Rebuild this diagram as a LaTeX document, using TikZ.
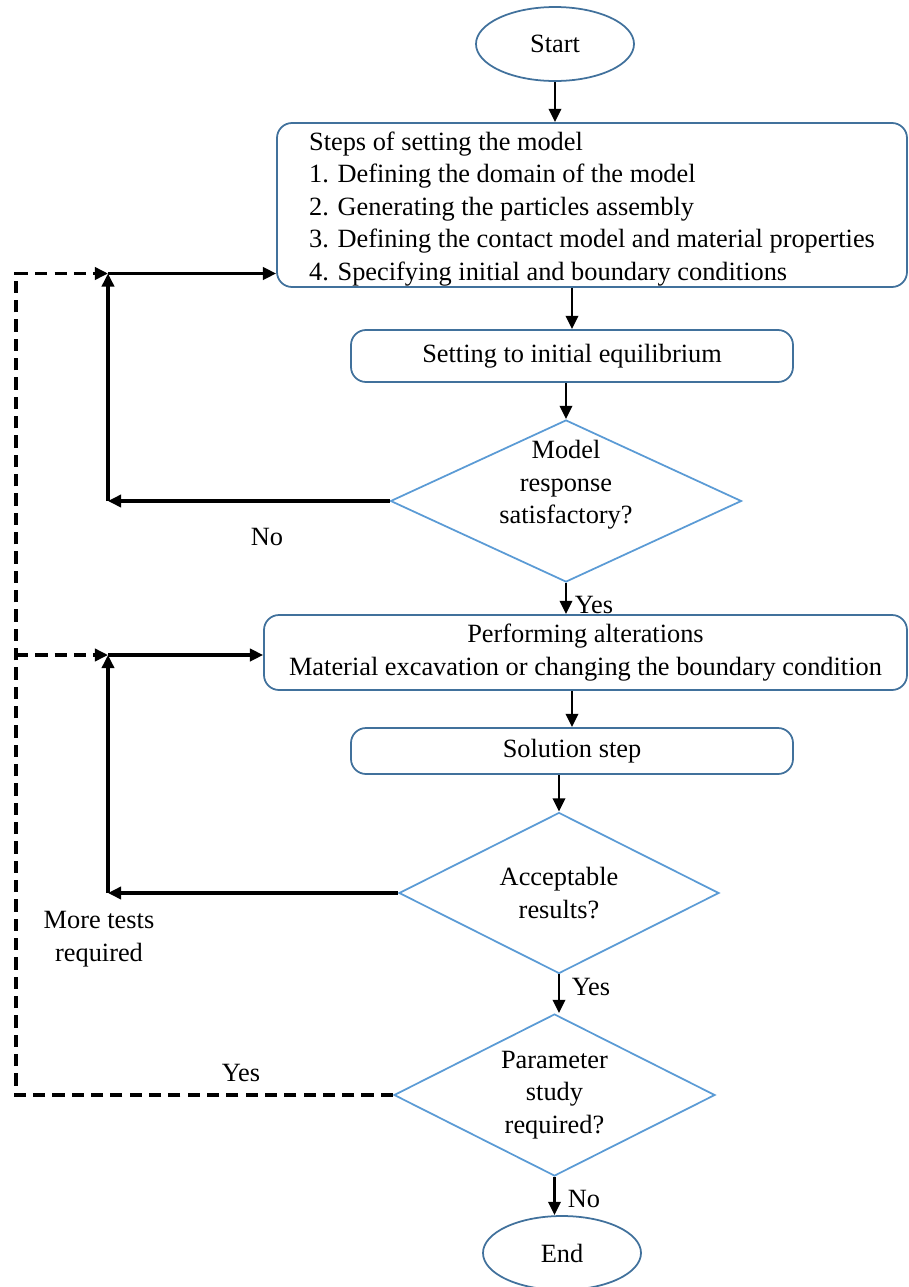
\documentclass[tikz,border=0pt]{standalone}
\usepackage{fontspec}
\setmainfont{Liberation Serif}
\usetikzlibrary{shapes.geometric, arrows.meta}

\definecolor{edgeblue}{RGB}{65,113,156}
\definecolor{diablue}{RGB}{91,155,213}

\tikzset{
    terminal/.style={ellipse, draw=edgeblue, line width=1pt, minimum width=3.16cm, minimum height=1.48cm, inner sep=0pt},
    stepbox/.style={rectangle, rounded corners=0.3cm, draw=edgeblue, line width=1pt, inner sep=0pt},
    decision/.style={diamond, draw=diablue, line width=1pt, inner sep=0pt},
    flow/.style={line width=1.4pt, -{Triangle[length=7.5pt, width=7pt]}},
    backline/.style={line width=1.8pt},
    dashline/.style={line width=1.8pt, dash pattern=on 7pt off 4pt}
}

\begin{document}
\begin{tikzpicture}[font=\fontsize{15pt}{18.5pt}\selectfont]
    \useasboundingbox (0, 0) rectangle (18.18, -25.74);

    % main column
    \node[terminal] (start) at (11.1, -0.88) {Start};
    \node[stepbox, minimum width=12.6cm, minimum height=3.28cm, align=left] (setup) at (11.84, -4.1)
        {\rule{0pt}{15pt}Steps of setting the model\\1. Defining the domain of the model\\2. Generating the particles assembly\\3. Defining the contact model and material properties\\4. Specifying initial and boundary conditions};
    \node[stepbox, minimum width=8.84cm, minimum height=1.04cm] (equil) at (11.44, -7.12) {Setting to initial equilibrium};
    \node[decision, minimum width=7.02cm, minimum height=3.24cm] (resp) at (11.32, -10.02) {};
    \node[align=center] (resptext) at (11.32, -9.7) {Model\\response\\satisfactory?};
    \node[stepbox, minimum width=12.86cm, minimum height=1.5cm, align=center] (alter) at (11.71, -13.05)
        {Performing alterations\\Material excavation or changing the boundary condition};
    \node[stepbox, minimum width=8.84cm, minimum height=0.92cm] (solve) at (11.44, -15.02) {Solution step};
    \node[decision, minimum width=6.4cm, minimum height=3.22cm] (accept) at (11.18, -17.86) {};
    \node[align=center] (accepttext) at (11.18, -17.86) {Acceptable\\results?};
    \node[decision, minimum width=6.42cm, minimum height=3.24cm] (param) at (11.09, -21.9) {};
    \node[align=center] (paramtext) at (11.09, -21.9) {Parameter\\study\\required?};
    \node[terminal] (end) at (11.24, -25.06) {End};

    % arrows down the column
    \draw[flow] (start) -- (start |- setup.north);
    \draw[flow] (equil |- setup.south) -- (equil);
    \draw[flow] (resp |- equil.south) -- (resp);
    \draw[flow] (resp.south) -- (resp |- alter.north);
    \draw[flow] (solve |- alter.south) -- (solve);
    \draw[flow] (accept |- solve.south) -- (accept);
    \draw[flow] (accept.south) -- (accept |- param.north);
    \draw[flow] (param.south) -- (param |- end.north);

    % loop back points
    \coordinate (fb1) at (2.16, -5.47);
    \coordinate (fb2) at (2.16, -13.1);
    \coordinate (dl1) at (0.32, -5.47);
    \coordinate (dl2) at (0.32, -13.1);

    % model response loop
    \draw[flow, backline] (resp.west) -- (resp.west -| fb1);
    \draw[flow, backline] (resp.west -| fb1) -- (fb1);
    \draw[flow, backline] (fb1) -- (fb1 -| setup.west);

    % more tests loop
    \draw[flow, backline] (accept.west) -- (accept.west -| fb2);
    \draw[flow, backline] (accept.west -| fb2) -- (fb2);
    \draw[flow, backline] (fb2) -- (fb2 -| alter.west);

    % parameter study loop
    \draw[flow, dashline] (param.west) -| (dl1) -- (fb1);
    \draw[flow, dashline] (dl2) -- (fb2);

    % labels
    \node (noa) at (5.34, -10.74) {No};
    \node (yesa) at (11.88, -12.1) {Yes};
    \node[align=center] (more) at (1.98, -18.78) {More tests\\required};
    \node (yesb) at (11.82, -19.74) {Yes};
    \node (yesc) at (4.82, -21.46) {Yes};
    \node (nob) at (11.68, -23.98) {No};
\end{tikzpicture}
\end{document}
